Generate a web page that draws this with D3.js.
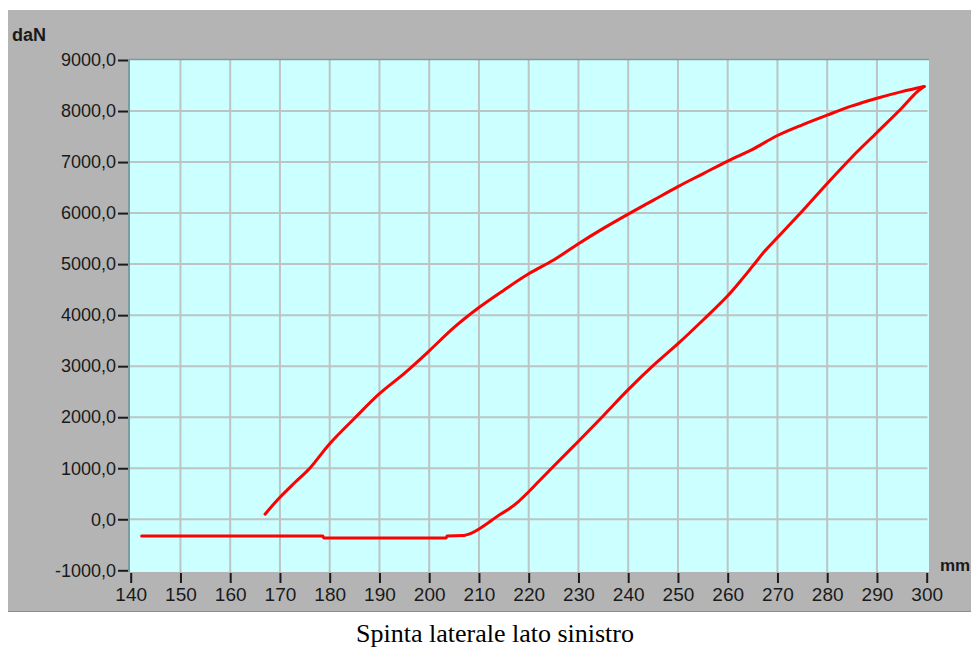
<!DOCTYPE html>
<html>
<head>
<meta charset="utf-8">
<script src="https://cdn.jsdelivr.net/npm/d3@7"></script>
<style>
  html, body { margin: 0; padding: 0; background: #ffffff; }
  svg { display: block; }
</style>
</head>
<body>
<svg id="chart" width="971" height="648"></svg>
<script>
// ---- data ----
const xTicks = [140, 150, 160, 170, 180, 190, 200, 210, 220, 230, 240, 250, 260, 270, 280, 290, 300];
const yTicks = [-1000, 0, 1000, 2000, 3000, 4000, 5000, 6000, 7000, 8000, 9000];

// lower branch: flat part then rising curve up to the tip (mm, daN)
const flatMm = [142.2, 178.6, 178.8, 203.4, 203.6, 206.9];
const flatDaN = [-327, -327, -366, -366, -327, -320];
const lowerMm = [206.9, 208.5, 210.0, 212.0, 214.0, 216.0, 218.0, 220.0, 222.0, 225.0, 230.0, 235.0, 240.0, 245.0, 250.0, 255.0, 260.0, 263.0, 265.0, 267.5, 270.0, 275.0, 280.0, 285.0, 290.0, 295.0, 298.0, 299.5];
const lowerDaN = [-320, -270, -190, -60, 80, 200, 350, 540, 740, 1040, 1530, 2030, 2540, 3010, 3440, 3900, 4380, 4720, 4960, 5260, 5520, 6040, 6580, 7100, 7580, 8060, 8370, 8480];

// upper branch: from the tip back down to 167 mm
const upperMm = [299.5, 295.0, 290.0, 285.0, 280.0, 275.0, 270.0, 265.0, 260.0, 255.0, 250.0, 245.0, 240.0, 235.0, 230.0, 225.0, 220.0, 215.0, 210.0, 205.0, 200.0, 195.0, 190.0, 185.0, 180.0, 176.0, 173.0, 170.0, 167.0];
const upperDaN = [8480, 8380, 8250, 8100, 7920, 7730, 7520, 7250, 7020, 6770, 6520, 6250, 5980, 5700, 5400, 5080, 4810, 4490, 4150, 3760, 3300, 2860, 2460, 1980, 1480, 1000, 720, 430, 100];

const yUnit = "daN";
const xUnit = "mm";
const caption = "Spinta laterale lato sinistro";

// ---- drawing ----
const svg = d3.select("#chart");
const x = d3.scaleLinear().domain([140, 300]).range([130.7, 926.7]);
const y = d3.scaleLinear().domain([-1000, 9000]).range([570.3, 60]);

// gray panel
svg.append("rect").attr("x", 8).attr("y", 10).attr("width", 963).attr("height", 602).attr("fill", "#b4b4b4");
svg.append("line").attr("x1", 8).attr("x2", 971).attr("y1", 611.5).attr("y2", 611.5).attr("stroke", "#8c8c8c").attr("stroke-width", 1);

// plot background
svg.append("rect").attr("x", 129).attr("y", 59).attr("width", 800).attr("height", 513).attr("fill", "#ccffff");

// grid
const grid = svg.append("g").attr("stroke", "#bcc4c4").attr("stroke-width", 2);
xTicks.filter(d => d > 140 && d < 300).forEach(d => {
  grid.append("line").attr("x1", x(d)).attr("x2", x(d)).attr("y1", 59).attr("y2", 572);
});
yTicks.filter(d => d > -1000 && d < 9000).forEach(d => {
  grid.append("line").attr("x1", 130).attr("x2", 927.5).attr("y1", y(d)).attr("y2", y(d));
});

// plot borders (left/top)
svg.append("line").attr("x1", 129).attr("x2", 129).attr("y1", 59).attr("y2", 572).attr("stroke", "#7a9c9c").attr("stroke-width", 2);
svg.append("line").attr("x1", 129).attr("x2", 929).attr("y1", 59.5).attr("y2", 59.5).attr("stroke", "#7a9c9c").attr("stroke-width", 1.5);

const fmt = d => d.toFixed(1).replace(".", ",");
const sans = "'Liberation Sans', Arial, sans-serif";

// y axis
const yAxis = svg.append("g").attr("transform", "translate(128,0)")
  .call(d3.axisLeft(y).tickValues(yTicks).tickFormat(fmt).tickSize(10).tickPadding(2));
yAxis.select(".domain").remove();
yAxis.selectAll("line").attr("stroke", "#1a1a1a").attr("stroke-width", 2);
yAxis.selectAll("text").attr("fill", "#1a1a1a").style("font-family", sans).style("font-size", "18px");

// x axis
const xAxis = svg.append("g").attr("transform", "translate(0,573)")
  .call(d3.axisBottom(x).tickValues(xTicks).tickFormat(d3.format("d")).tickSize(10).tickPadding(5));
xAxis.select(".domain").remove();
xAxis.selectAll("line").attr("stroke", "#1a1a1a").attr("stroke-width", 2);
xAxis.selectAll("text").attr("fill", "#1a1a1a").style("font-family", sans).style("font-size", "19px");

// units
svg.append("text").attr("x", 12).attr("y", 41).text(yUnit)
  .style("font-family", sans).style("font-size", "18px").style("font-weight", "bold").attr("fill", "#1a1a1a");
svg.append("text").attr("x", 940).attr("y", 571).text(xUnit)
  .style("font-family", sans).style("font-size", "17px").style("font-weight", "bold").attr("fill", "#1a1a1a");

// curve
const straight = d3.line().x(d => x(d[0])).y(d => y(d[1]));
const smooth = d3.line().x(d => x(d[0])).y(d => y(d[1])).curve(d3.curveCatmullRom.alpha(0.5));
const flatPts = flatMm.map((m, i) => [m, flatDaN[i]]);
const lowerPts = lowerMm.map((m, i) => [m, lowerDaN[i]]);
const upperPts = upperMm.map((m, i) => [m, upperDaN[i]]);
const curveStyle = sel => sel.attr("fill", "none").attr("stroke", "#ff0000").attr("stroke-width", 3)
  .attr("stroke-linejoin", "round").attr("stroke-linecap", "round");
svg.append("path").datum(flatPts).attr("d", straight).call(curveStyle);
svg.append("path").datum(lowerPts).attr("d", smooth).call(curveStyle);
svg.append("path").datum(upperPts).attr("d", smooth).call(curveStyle);

// caption
svg.append("text").attr("x", 495).attr("y", 642).attr("text-anchor", "middle").text(caption)
  .style("font-family", "'Liberation Serif', 'Times New Roman', serif").style("font-size", "26px").attr("fill", "#000");
</script>
</body>
</html>
